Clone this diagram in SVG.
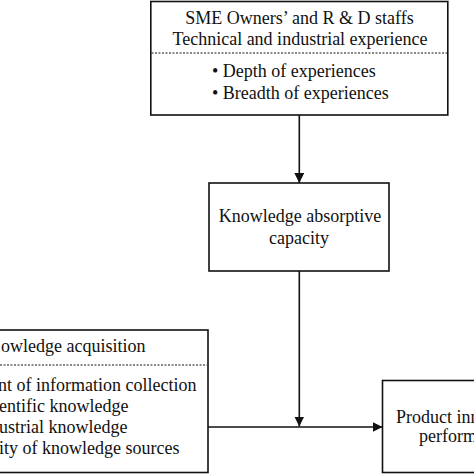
<svg xmlns="http://www.w3.org/2000/svg" width="474" height="474" viewBox="0 0 474 474">
<style>
  .box { fill: #ffffff; stroke: #111111; stroke-width: 1.6; }
  .dot { stroke: #111111; stroke-width: 1; stroke-dasharray: 2 1.5; fill: none; }
  .t { font-family: "Liberation Serif", "Times New Roman", serif; font-size: 18px; fill: #111111; }
  .c { text-anchor: middle; }
  .edge { stroke: #111111; stroke-width: 1.6; fill: none; }
</style>
<defs>
  <marker id="ah" viewBox="0 0 10 10" refX="10" refY="5" markerWidth="10" markerHeight="10" markerUnits="userSpaceOnUse" orient="auto">
    <path d="M0,0 L10,5 L0,10 Z" fill="#111111"/>
  </marker>
</defs>
<rect width="474" height="474" fill="#ffffff"/>

<g id="experience">
  <rect class="box" x="150.8" y="1.5" width="297" height="113.5"/>
  <line class="dot" x1="151.5" y1="53" x2="447" y2="53"/>
  <text class="t c" x="299.5" y="24">SME Owners’ and R &amp; D staffs</text>
  <text class="t c" x="300" y="45">Technical and industrial experience</text>
  <text class="t" x="212" y="77">• Depth of experiences</text>
  <text class="t" x="212" y="98.5">• Breadth of experiences</text>
</g>

<g id="absorptive">
  <rect class="box" x="209" y="183" width="180" height="88"/>
  <text class="t c" x="300" y="222">Knowledge absorptive</text>
  <text class="t c" x="299" y="244">capacity</text>
</g>

<g id="acquisition">
  <rect class="box" x="-3" y="330" width="211" height="142.5"/>
  <line class="dot" x1="0" y1="365" x2="207" y2="365"/>
  <text class="t" x="1" y="352">owledge acquisition</text>
  <text class="t" x="-2" y="391">nt of information collection</text>
  <text class="t" x="-1" y="411.5">entific knowledge</text>
  <text class="t" x="-1" y="432.5">ustrial knowledge</text>
  <text class="t" x="-1" y="453.5">ity of knowledge sources</text>
</g>

<g id="performance">
  <rect class="box" x="382.5" y="380.5" width="100" height="92"/>
  <text class="t" x="396" y="423">Product inn</text>
  <text class="t" x="419" y="442">perform</text>
</g>

<g id="connectors">
  <line class="edge" x1="299.3" y1="115" x2="299.3" y2="183" marker-end="url(#ah)"/>
  <line class="edge" x1="299.3" y1="271" x2="299.3" y2="426.5" marker-end="url(#ah)"/>
  <line class="edge" x1="208" y1="427" x2="382.5" y2="427" marker-end="url(#ah)"/>
</g>
</svg>
